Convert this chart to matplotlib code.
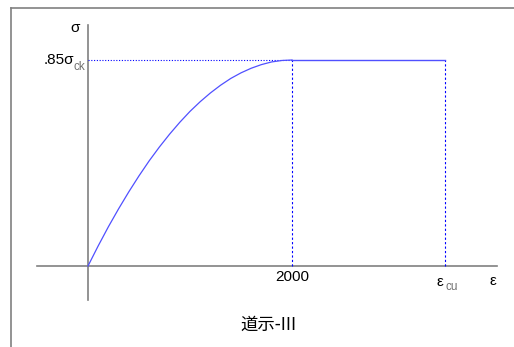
import matplotlib
matplotlib.use('Agg')
import matplotlib.pyplot as plt
from matplotlib.lines import Line2D

plt.rcParams['font.family'] = ['Liberation Sans', 'DejaVu Sans']

# ひずみ-応力 (道示-III の放物線 + 水平線)
eps_curve = [0, 100, 200, 300, 400, 500, 600, 700, 800, 900, 1000,
             1100, 1200, 1300, 1400, 1500, 1600, 1700, 1800, 1900, 2000]
sig_curve = [0.000, 0.083, 0.162, 0.236, 0.306, 0.372, 0.434, 0.491, 0.544, 0.593, 0.638,
             0.678, 0.714, 0.746, 0.774, 0.797, 0.816, 0.831, 0.842, 0.848, 0.850]
eps_peak = 2000
eps_cu = 3500
sig_top = 0.85

W, H = 514, 347
fig = plt.figure(figsize=(W / 100, H / 100), dpi=100)
ax = fig.add_axes([0, 0, 1, 1])

# 画素 -> データの対応 (原点 x=88, y=266)
sx = 0.102       # px / 単位ひずみ
sy = 242.35      # px / 単位応力
ax.set_xlim(-88 / sx, (W - 88) / sx)
ax.set_ylim((266 - H) / sy, 266 / sy)
ax.axis('off')

gray = '#808080'
blue = '#0000ff'

# 外枠
fig.add_artist(Line2D([11 / W, 1], [1 - 8 / H, 1 - 8 / H], color=gray, lw=1.2))
fig.add_artist(Line2D([11 / W, 11 / W], [0, 1 - 8 / H], color=gray, lw=1.2))

# 座標軸
ax.plot([(37 - 88) / sx, (497 - 88) / sx], [0, 0], color=gray, lw=1.2)
ax.plot([0, 0], [(266 - 25) / sy, (266 - 300) / sy], color=gray, lw=1.2)

# 補助線
ax.plot([0, eps_peak], [sig_top, sig_top], color=blue, lw=0.8, ls=(0, (1, 1.5)))
ax.plot([eps_peak, eps_peak], [0, sig_top], color=blue, lw=0.8, ls=(0, (2, 2)))
ax.plot([eps_cu, eps_cu], [0, sig_top], color=blue, lw=0.8, ls=(0, (2, 2)))

# 曲線
ax.plot(eps_curve, sig_curve, color='#5050ff', lw=0.9)
ax.plot([eps_peak, eps_cu], [sig_top, sig_top], color='#5050ff', lw=1.0)

# ラベル
fs = 11
ax.text(-8 / sx, (266 - 28) / sy, 'σ', fontsize=fs, ha='right', va='center')
ax.text(-14 / sx, sig_top, '.85σ', fontsize=fs, ha='right', va='center')
ax.text(-14 / sx, sig_top - 7 / sy, 'ck', fontsize=8.5, color='#707070', ha='left', va='center')
ax.text(eps_peak, -11 / sy, '2000', fontsize=fs, ha='center', va='center')
ax.text(eps_cu - 5 / sx, -16 / sy, 'ε', fontsize=fs, ha='center', va='center')
ax.text(eps_cu, -21 / sy, 'cu', fontsize=8.5, color='#707070', ha='left', va='center')
ax.text((493 - 88) / sx, -15 / sy, 'ε', fontsize=fs, ha='center', va='center')

ax.text((268 - 88) / sx, (266 - 325) / sy, '道示-III', fontsize=12.5, ha='center', va='center',
        family=['Noto Sans CJK JP', 'DejaVu Sans'])

fig.savefig('out.png', dpi=100)
